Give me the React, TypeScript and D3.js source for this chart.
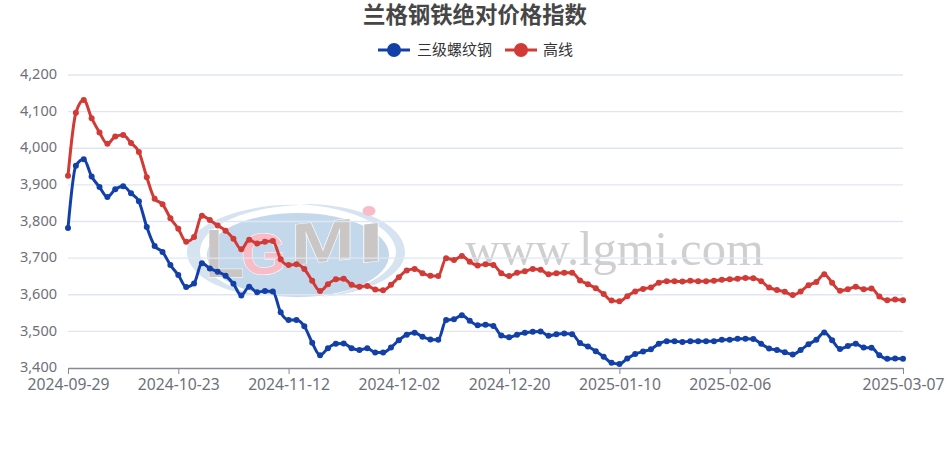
import React, { useEffect, useRef } from 'react';
import * as d3 from 'd3';

const tickIndex = [0, 14, 28, 42, 56, 70, 84, 106];
const tickLabels = ['2024-09-29', '2024-10-23', '2024-11-12', '2024-12-02', '2024-12-20', '2025-01-10', '2025-02-06', '2025-03-07'];
const yTicks = [3400, 3500, 3600, 3700, 3800, 3900, 4000, 4100, 4200];

const rebar = [
  3782, 3952, 3970, 3923, 3894, 3867, 3888, 3896, 3877, 3855,
  3785, 3733, 3717, 3681, 3654, 3621, 3631, 3686, 3672, 3663,
  3652, 3630, 3598, 3622, 3607, 3610, 3609, 3552, 3531, 3531,
  3514, 3469, 3435, 3454, 3466, 3467, 3454, 3449, 3454, 3442,
  3442, 3456, 3476, 3491, 3496, 3485, 3478, 3477, 3531, 3533,
  3544, 3529, 3517, 3518, 3515, 3489, 3484, 3491, 3496, 3499,
  3500, 3488, 3492, 3494, 3492, 3468, 3459, 3446, 3431, 3414,
  3411, 3426, 3438, 3445, 3451, 3466, 3473, 3473, 3471, 3473,
  3473, 3473, 3473, 3477, 3477, 3480, 3480, 3479, 3466, 3453,
  3449, 3443, 3437, 3449, 3465, 3477, 3497, 3476, 3452, 3460,
  3466, 3456, 3455, 3435, 3425, 3426, 3425,
];

const wireRod = [
  3925, 4097, 4132, 4082, 4043, 4012, 4032, 4036, 4014, 3990,
  3921, 3862, 3847, 3809, 3780, 3745, 3758, 3816, 3804, 3789,
  3775, 3753, 3724, 3750, 3740, 3745, 3747, 3697, 3681, 3683,
  3670, 3638, 3610, 3629, 3642, 3644, 3627, 3622, 3624, 3614,
  3612, 3627, 3648, 3666, 3670, 3659, 3652, 3651, 3700, 3695,
  3706, 3690, 3680, 3683, 3681, 3659, 3651, 3660, 3664, 3670,
  3668, 3656, 3659, 3660, 3660, 3639, 3629, 3618, 3602, 3584,
  3582, 3596, 3609, 3616, 3620, 3633, 3637, 3637, 3636, 3638,
  3637, 3637, 3638, 3641, 3642, 3644, 3646, 3645, 3637, 3620,
  3613, 3608, 3599, 3609, 3626, 3635, 3656, 3633, 3611, 3615,
  3622, 3615, 3617, 3595, 3585, 3587, 3585,
];

const BLUE = '#1240a8';
const RED = '#d23a36';
const sans = '"Noto Sans", sans-serif';

const App: React.FC = () => {
  const svgRef = useRef<SVGSVGElement>(null);

  useEffect(() => {
    if (!svgRef.current) return;
    const svg = d3.select(svgRef.current);
    svg.selectAll('*').remove();

    const x = d3.scaleLinear().domain([0, rebar.length - 1]).range([68, 903]);
    const y = d3.scaleLinear().domain([3400, 4200]).range([368, 75]);

    // Title
    svg.append('text')
      .attr('x', 475).attr('y', 23)
      .attr('text-anchor', 'middle')
      .attr('font-family', '"Noto Sans CJK SC", sans-serif')
      .attr('font-size', 22.4).attr('font-weight', 700)
      .attr('fill', '#464646')
      .text('兰格钢铁绝对价格指数');

    // Legend
    const legend = [
      { name: '三级螺纹钢', color: BLUE, x0: 378, tx: 417 },
      { name: '高线', color: RED, x0: 505, tx: 543 },
    ];
    legend.forEach(d => {
      svg.append('line')
        .attr('x1', d.x0).attr('x2', d.x0 + 32)
        .attr('y1', 50).attr('y2', 50)
        .attr('stroke', d.color).attr('stroke-width', 3);
      svg.append('circle')
        .attr('cx', d.x0 + 16).attr('cy', 50).attr('r', 7)
        .attr('fill', d.color);
      svg.append('text')
        .attr('x', d.tx).attr('y', 55)
        .attr('font-family', '"Noto Sans CJK SC", sans-serif')
        .attr('font-size', 15)
        .attr('fill', '#333')
        .text(d.name);
    });

    // Watermark logo and address behind the plot
    const mark = svg.append('g');
    mark.append('path')
      .attr('d', 'M 300 205 C 240 203 187 225 187 252 C 187 272 215 292 262 296 C 225 288 200 272 200 252 C 200 226 245 207 300 205 Z')
      .attr('fill', '#d6e3f1');
    mark.append('path')
      .attr('d', 'M 300 204 C 360 203 405 225 405 252 C 405 275 370 293 320 297 C 365 290 396 272 396 252 C 396 228 355 208 300 204 Z')
      .attr('fill', '#d6e3f1');
    mark.append('ellipse')
      .attr('cx', 298).attr('cy', 255).attr('rx', 91).attr('ry', 42)
      .attr('fill', '#c4d8ec');
    mark.append('ellipse')
      .attr('cx', 369).attr('cy', 211).attr('rx', 6.5).attr('ry', 5)
      .attr('fill', '#f8bcc6');
    const letters = [
      { t: 'L', tr: 'translate(205,277) scale(0.95,1)', fs: 68, fill: '#c9c6c5' },
      { t: 'G', tr: 'translate(241,274)', fs: 58, fill: '#f8bcc6' },
      { t: 'M', tr: 'translate(291,265) skewY(-6) scale(1.32,1)', fs: 58, fill: '#c9c6c5' },
      { t: 'I', tr: 'translate(358,263) skewY(-6) scale(1.7,1)', fs: 55, fill: '#c9c6c5' },
    ];
    letters.forEach(d => {
      mark.append('text')
        .attr('transform', d.tr)
        .attr('font-family', '"Liberation Sans", sans-serif')
        .attr('font-size', d.fs).attr('font-weight', 700)
        .attr('fill', d.fill)
        .attr('stroke', '#fff').attr('stroke-width', 1)
        .attr('paint-order', 'stroke')
        .text(d.t);
    });
    mark.append('text')
      .attr('x', 465).attr('y', 265)
      .attr('font-family', '"Liberation Serif", serif')
      .attr('font-size', 48.5)
      .attr('fill', '#cfcfcf')
      .text('www.lgmi.com');

    // Grid
    svg.append('g')
      .selectAll('line')
      .data(yTicks.slice(1))
      .join('line')
        .attr('x1', 68).attr('x2', 903)
        .attr('y1', d => y(d)).attr('y2', d => y(d))
        .attr('stroke', '#e0e6f1').attr('stroke-width', 1.3);

    // Axes
    const yAxis = d3.axisLeft(y)
      .tickValues(yTicks)
      .tickSize(0)
      .tickPadding(11)
      .tickFormat(d => d3.format(',')(d as number));
    const gy = svg.append('g').attr('transform', 'translate(68,-1)').call(yAxis);
    gy.select('.domain').remove();
    gy.selectAll('text')
      .attr('font-family', sans).attr('font-size', 14.5).attr('fill', '#6e7079');

    const xAxis = d3.axisBottom(x)
      .tickValues(tickIndex)
      .tickSize(6)
      .tickSizeOuter(0)
      .tickPadding(5)
      .tickFormat((d) => tickLabels[tickIndex.indexOf(d as number)]);
    const gx = svg.append('g').attr('transform', 'translate(0,368)').call(xAxis);
    gx.select('.domain').attr('stroke', '#878995').attr('stroke-width', 1.5);
    gx.selectAll('line').attr('stroke', '#878995');
    gx.selectAll('text')
      .attr('font-family', sans).attr('font-size', 15.7).attr('fill', '#6e7079');

    // Series
    const line = d3.line<number>()
      .x((d, i) => x(i))
      .y(d => y(d))
      .curve(d3.curveMonotoneX);

    [
      { values: rebar, color: BLUE },
      { values: wireRod, color: RED },
    ].forEach(s => {
      const g = svg.append('g');
      g.append('path')
        .attr('d', line(s.values))
        .attr('fill', 'none')
        .attr('stroke', s.color)
        .attr('stroke-width', 3);
      g.selectAll('circle')
        .data(s.values)
        .join('circle')
          .attr('cx', (d, i) => x(i))
          .attr('cy', d => y(d))
          .attr('r', 3)
          .attr('fill', s.color);
    });
  }, []);

  return <svg ref={svgRef} width={950} height={462} style={{ position: 'absolute', left: 0, top: 0 }} />;
};

export default App;
